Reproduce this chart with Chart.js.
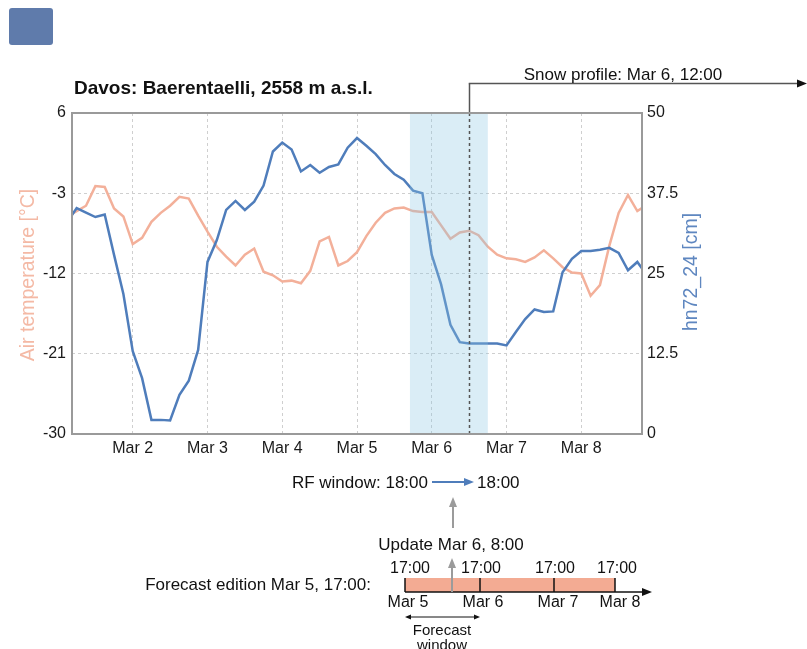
<!DOCTYPE html>
<html lang="en">
<head>
  <meta charset="UTF-8" />
  <title>Davos: Baerentaelli, 2558 m a.s.l.</title>
  <script src="https://cdn.jsdelivr.net/npm/chart.js"></script>
  <style>
    html, body { margin: 0; padding: 0; background: #fff; }
    #wrap { width: 807px; height: 649px; }
  </style>
</head>
<body>
  <div id="wrap"><canvas id="snowChart"></canvas></div>

  <script>
    // time axis: hours since Mar 1, 00:00 (3-hourly values)
    const hours = [3, 6, 9, 12, 15, 18, 21, 24, 27, 30, 33, 36, 39, 42, 45, 48, 51, 54, 57, 60, 63,
      66, 69, 72, 75, 78, 81, 84, 87, 90, 93, 96, 99, 102, 105, 108, 111, 114, 117, 120, 123, 126,
      129, 132, 135, 138, 141, 144, 147, 150, 153, 156, 159, 162, 165, 168, 171, 174, 177, 180,
      183, 186, 189];

    // air temperature [°C]
    const airTemp = [-5.6, -5.0, -4.4, -2.2, -2.3, -4.7, -5.6, -8.7, -8.0, -6.2, -5.2, -4.4, -3.4,
      -3.6, -5.5, -7.3, -9.0, -10.1, -11.1, -9.9, -9.2, -11.8, -12.2, -12.9, -12.8, -13.1, -11.7,
      -8.4, -7.9, -11.1, -10.6, -9.6, -7.8, -6.3, -5.2, -4.7, -4.6, -5.0, -5.1, -5.1, -6.6, -8.1,
      -7.4, -7.2, -7.7, -9.0, -9.9, -10.3, -10.4, -10.7, -10.2, -9.4, -10.3, -11.3, -11.9, -12.0,
      -14.5, -13.3, -8.9, -5.2, -3.2, -5.0, -4.3];

    // hn72_24 [cm]
    const hn72 = [33.0, 35.2, 34.5, 33.8, 34.2, 27.9, 21.8, 12.9, 8.7, 2.2, 2.2, 2.1, 6.1, 8.3,
      13.1, 26.8, 30.2, 34.9, 36.3, 34.9, 36.2, 38.7, 44.0, 45.4, 44.3, 40.9, 41.9, 40.7, 41.6,
      42.0, 44.6, 46.1, 44.9, 43.6, 41.9, 40.5, 39.6, 37.9, 37.5, 27.9, 23.3, 17.0, 14.3, 14.1,
      14.1, 14.1, 14.1, 13.8, 15.9, 17.9, 19.4, 19.0, 19.1, 25.2, 27.3, 28.5, 28.5, 28.7, 29.0,
      28.2, 25.5, 26.8, 24.8];

    const dayTicks = [24, 48, 72, 96, 120, 144, 168];
    const dayLabels = ['Mar 2', 'Mar 3', 'Mar 4', 'Mar 5', 'Mar 6', 'Mar 7', 'Mar 8'];
    const tempTicks = [-30, -21, -12, -3, 6];
    const hnTicks = [0, 12.5, 25, 37.5, 50];

    const rfWindow = [113, 138];     // Mar 5 17:00 -> Mar 6 18:00
    const snowProfileHour = 132;     // Mar 6 12:00

    const FONT = '"Liberation Sans", Arial, Helvetica, sans-serif';
    const ORANGE = '#f3b09a';
    const BLUE = '#4f7dbb';

    Chart.defaults.font.family = FONT;
    Chart.defaults.font.size = 16;
    Chart.defaults.color = '#1a1a1a';

    function arrowHead(ctx, x, y, angle, len, wid) {
      ctx.save();
      ctx.translate(x, y);
      ctx.rotate(angle);
      ctx.beginPath();
      ctx.moveTo(0, 0);
      ctx.lineTo(-len, -wid / 2);
      ctx.lineTo(-len, wid / 2);
      ctx.closePath();
      ctx.fill();
      ctx.restore();
    }

    function seg(ctx, x1, y1, x2, y2) {
      ctx.beginPath();
      ctx.moveTo(x1, y1);
      ctx.lineTo(x2, y2);
      ctx.stroke();
    }

    function text(ctx, str, x, y, size, align, color, bold) {
      ctx.font = (bold ? 'bold ' : '') + size + 'px ' + FONT;
      ctx.textAlign = align || 'left';
      ctx.textBaseline = 'alphabetic';
      ctx.fillStyle = color || '#111';
      ctx.fillText(str, x, y);
    }

    const overlay = {
      id: 'overlay',
      afterDatasetsDraw(chart) {
        const { ctx, chartArea: a, scales: { x } } = chart;
        ctx.save();

        // RF window band (semi transparent, over the lines)
        const b0 = x.getPixelForValue(rfWindow[0]);
        const b1 = x.getPixelForValue(rfWindow[1]);
        ctx.fillStyle = 'rgba(140, 198, 226, 0.32)';
        ctx.fillRect(b0, a.top, b1 - b0, a.bottom - a.top);

        // snow profile marker
        const px = Math.round(x.getPixelForValue(snowProfileHour)) + 0.5;
        ctx.strokeStyle = '#555';
        ctx.fillStyle = '#111';
        ctx.lineWidth = 1.5;
        ctx.setLineDash([3, 3]);
        seg(ctx, px, a.bottom, px, a.top);
        ctx.setLineDash([]);
        seg(ctx, px, a.top, px, 83.5);
        seg(ctx, px - 0.75, 83.5, 798, 83.5);
        arrowHead(ctx, 807, 83.5, 0, 10, 8);

        // plot frame
        ctx.strokeStyle = '#9a9a9a';
        ctx.lineWidth = 2;
        ctx.strokeRect(a.left, a.top, a.right - a.left, a.bottom - a.top);
        ctx.restore();
      },
      afterDraw(chart) {
        const { ctx } = chart;
        ctx.save();

        // blue box top left
        ctx.fillStyle = '#5f7bab';
        ctx.beginPath();
        ctx.roundRect(9, 8, 44, 37, 3);
        ctx.fill();

        text(ctx, 'Davos: Baerentaelli, 2558 m a.s.l.', 74, 94, 19, 'left', '#111', true);
        text(ctx, 'Snow profile: Mar 6, 12:00', 623, 80, 17, 'center');

        // axis titles
        ctx.save();
        ctx.translate(29, 275);
        ctx.rotate(-Math.PI / 2);
        ctx.font = '19.5px ' + FONT;
        ctx.textAlign = 'center';
        ctx.textBaseline = 'middle';
        ctx.fillStyle = '#f4b9a5';
        ctx.fillText('Air temperature [°C]', 0, 0);
        ctx.restore();

        ctx.save();
        ctx.translate(692, 272);
        ctx.rotate(-Math.PI / 2);
        ctx.font = '19.5px ' + FONT;
        ctx.textAlign = 'center';
        ctx.textBaseline = 'middle';
        ctx.fillStyle = '#5f87c0';
        ctx.fillText('hn72_24 [cm]', 0, 0);
        ctx.restore();

        // RF window line
        text(ctx, 'RF window: 18:00', 428, 488, 17, 'right');
        text(ctx, '18:00', 477, 488, 17, 'left');
        ctx.strokeStyle = BLUE;
        ctx.fillStyle = BLUE;
        ctx.lineWidth = 2;
        seg(ctx, 432, 482, 466, 482);
        arrowHead(ctx, 474, 482, 0, 10, 8);

        // update arrow
        ctx.strokeStyle = '#9b9b9b';
        ctx.fillStyle = '#9b9b9b';
        seg(ctx, 453, 528, 453, 505);
        arrowHead(ctx, 453, 497, -Math.PI / 2, 10, 8);
        text(ctx, 'Update Mar 6, 8:00', 451, 550, 17, 'center');

        // forecast edition schematic
        text(ctx, 'Forecast edition Mar 5, 17:00:', 371, 590, 17, 'right');
        ctx.fillStyle = '#f3ab93';
        ctx.fillRect(405, 578, 210, 14);
        ['17:00', '17:00', '17:00', '17:00'].forEach((s, i) => {
          text(ctx, s, [410, 481, 555, 617][i], 573, 16, 'center');
        });
        ['Mar 5', 'Mar 6', 'Mar 7', 'Mar 8'].forEach((s, i) => {
          text(ctx, s, [408, 483, 558, 620][i], 607, 16, 'center');
        });
        ctx.strokeStyle = '#111';
        ctx.fillStyle = '#111';
        ctx.lineWidth = 1.5;
        [405, 480, 554, 615].forEach(tx => seg(ctx, tx, 578, tx, 592));
        seg(ctx, 405, 592, 644, 592);
        arrowHead(ctx, 652, 592, 0, 10, 8);

        ctx.strokeStyle = '#9b9b9b';
        ctx.fillStyle = '#9b9b9b';
        ctx.lineWidth = 2;
        seg(ctx, 452, 592, 452, 566);
        arrowHead(ctx, 452, 558, -Math.PI / 2, 10, 8);

        // forecast window double arrow
        ctx.strokeStyle = '#111';
        ctx.fillStyle = '#111';
        ctx.lineWidth = 1;
        seg(ctx, 408, 617, 477, 617);
        arrowHead(ctx, 405, 617, Math.PI, 6, 5);
        arrowHead(ctx, 480, 617, 0, 6, 5);
        text(ctx, 'Forecast', 442, 635, 15, 'center');
        text(ctx, 'window', 442, 650, 15, 'center');

        ctx.restore();
      }
    };

    const ctx = document.getElementById('snowChart').getContext('2d');
    const snowChart = new Chart(ctx, {
      type: 'line',
      data: {
        datasets: [
          {
            label: 'hn72_24',
            data: hours.map((h, i) => ({ x: h, y: hn72[i] })),
            yAxisID: 'yHn',
            borderColor: BLUE,
            borderWidth: 2.5,
            pointRadius: 0,
            tension: 0
          },
          {
            label: 'Air temperature',
            data: hours.map((h, i) => ({ x: h, y: airTemp[i] })),
            yAxisID: 'yTemp',
            borderColor: ORANGE,
            borderWidth: 2.5,
            pointRadius: 0,
            tension: 0
          }
        ]
      },
      options: {
        responsive: true,
        maintainAspectRatio: false,
        animation: false,
        layout: { padding: { top: 113, left: 0, right: 0, bottom: 0 } },
        plugins: {
          legend: { display: false },
          tooltip: { enabled: false }
        },
        scales: {
          x: {
            type: 'linear',
            min: 4.5,
            max: 187.5,
            afterBuildTicks: s => { s.ticks = dayTicks.map(v => ({ value: v })); },
            afterFit: s => { s.height = 215; },
            ticks: {
              padding: 5,
              maxRotation: 0,
              color: '#1a1a1a',
              callback: v => dayLabels[dayTicks.indexOf(v)]
            },
            grid: { color: '#cfcfcf', lineWidth: 1, drawTicks: false },
            border: { display: false, dash: [3, 3] }
          },
          yTemp: {
            type: 'linear',
            position: 'left',
            min: -30,
            max: 6,
            afterBuildTicks: s => { s.ticks = tempTicks.map(v => ({ value: v })); },
            afterFit: s => { s.width = 72; },
            ticks: { padding: 6, color: '#1a1a1a' },
            grid: { color: '#cfcfcf', lineWidth: 1, drawTicks: false },
            border: { display: false, dash: [3, 3] }
          },
          yHn: {
            type: 'linear',
            position: 'right',
            min: 0,
            max: 50,
            afterBuildTicks: s => { s.ticks = hnTicks.map(v => ({ value: v })); },
            afterFit: s => { s.width = 165; },
            ticks: { padding: 5, color: '#1a1a1a', callback: v => String(v) },
            grid: { drawOnChartArea: false, drawTicks: false },
            border: { display: false }
          }
        }
      },
      plugins: [overlay]
    });
  </script>
</body>
</html>
